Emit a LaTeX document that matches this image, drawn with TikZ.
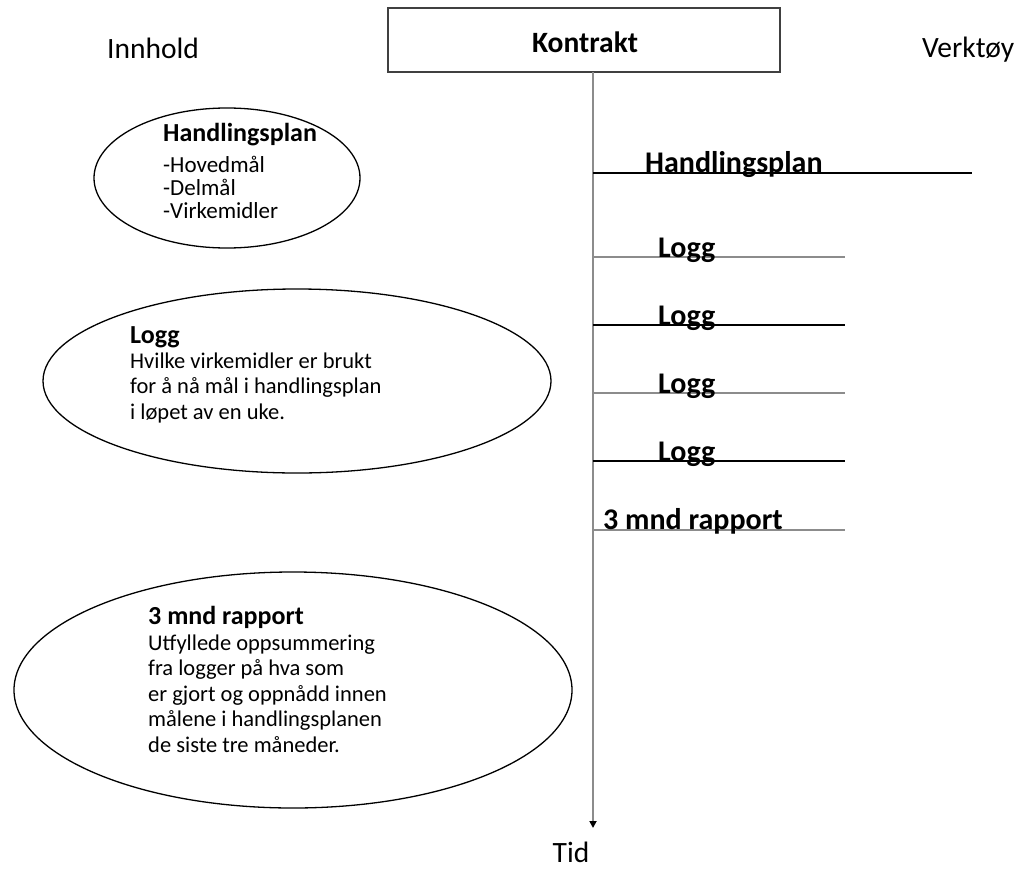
\documentclass[tikz,border=0pt]{standalone}
\usepackage{fontspec}
\setmainfont{Carlito}
\usetikzlibrary{arrows.meta,shapes.geometric}
\definecolor{linegray}{RGB}{140,140,140}
\tikzset{
  bubble/.style={draw=black, line width=1.3pt, ellipse, inner sep=0pt},
  btxt/.style={anchor=base west, inner sep=0pt, font=\fontsize{22.5}{25}\selectfont},
  bhead/.style={anchor=base west, inner sep=0pt, font=\fontsize{26}{30}\selectfont\bfseries},
  headtext/.style={font=\fontsize{29.5}{34}\selectfont, inner sep=0pt},
  tooltext/.style={font=\fontsize{30}{34}\selectfont\bfseries, inner sep=0pt, anchor=base west},
  blackline/.style={draw=black, line width=1.6pt},
  grayline/.style={draw=linegray, line width=2pt},
}
\begin{document}
\begin{tikzpicture}[x=1pt,y=-1pt]
\useasboundingbox (0,0) rectangle (1019,870);
% headings
\node[headtext, anchor=base west] (innhold) at (107,58) {Innhold};
\node[headtext, anchor=base west] (verktoy) at (922,57) {Verktøy};
\node[draw=black!75, line width=1.6pt, minimum width=392pt, minimum height=64pt, inner sep=0pt] (kontrakt) at (584,40) {};
\node[headtext, font=\fontsize{29.5}{34}\selectfont\bfseries, anchor=base] (ktext) at (585,52) {Kontrakt};
\node[headtext, anchor=base] (tid) at (571,862) {Tid};
% time axis
\coordinate (axistop) at (593,72);
\coordinate (axisend) at (593,828);
\draw[grayline, -{Triangle[length=7pt,width=7pt,color=black]}] (axistop) -- (axisend);
% tool lines
\coordinate (h0) at (593,173); \coordinate (h1) at (972,173);
\coordinate (l1a) at (593,257); \coordinate (l1b) at (845,257);
\coordinate (l2a) at (593,325); \coordinate (l2b) at (845,325);
\coordinate (l3a) at (593,393); \coordinate (l3b) at (845,393);
\coordinate (l4a) at (593,461); \coordinate (l4b) at (845,461);
\coordinate (r1a) at (593,530); \coordinate (r1b) at (845,530);
\draw[blackline] (h0) -- (h1);
\draw[grayline] (l1a) -- (l1b);
\draw[blackline] (l2a) -- (l2b);
\draw[grayline] (l3a) -- (l3b);
\draw[blackline] (l4a) -- (l4b);
\draw[grayline] (r1a) -- (r1b);
\node[tooltext] (th) at (645,172) {Handlingsplan};
\node[tooltext] (tl1) at (658,257) {Logg};
\node[tooltext] (tl2) at (658,325) {Logg};
\node[tooltext] (tl3) at (658,393) {Logg};
\node[tooltext] (tl4) at (658,461) {Logg};
\node[tooltext] (tr1) at (603,529) {3 mnd rapport};
% bubble 1
\node[bubble, minimum width=266pt, minimum height=140pt] (e1) at (227,178) {};
\node[bhead] (e1h) at (163,141) {Handlingsplan};
\node[btxt, font=\fontsize{23}{25}\selectfont] (e1a) at (163,172) {-Hovedmål};
\node[btxt, font=\fontsize{23}{25}\selectfont] (e1b) at (163,195) {-Delmål};
\node[btxt, font=\fontsize{23}{25}\selectfont] (e1c) at (163,218) {-Virkemidler};
% bubble 2
\node[bubble, minimum width=508pt, minimum height=184pt] (e2) at (297,381) {};
\node[bhead] (e2h) at (130,343) {Logg};
\node[btxt] (e2a) at (130,368) {Hvilke virkemidler er brukt};
\node[btxt] (e2b) at (130,393.5) {for å nå mål i handlingsplan};
\node[btxt] (e2c) at (130,419) {i løpet av en uke.};
% bubble 3
\node[bubble, minimum width=558pt, minimum height=236pt] (e3) at (293,690) {};
\node[bhead] (e3h) at (148,624) {3 mnd rapport};
\node[btxt] (e3a) at (148,650) {Utfyllede oppsummering};
\node[btxt] (e3b) at (148,675.5) {fra logger på hva som};
\node[btxt] (e3c) at (148,701) {er gjort og oppnådd innen};
\node[btxt] (e3d) at (148,726.5) {målene i handlingsplanen};
\node[btxt] (e3e) at (148,752) {de siste tre måneder.};
\end{tikzpicture}
\end{document}
